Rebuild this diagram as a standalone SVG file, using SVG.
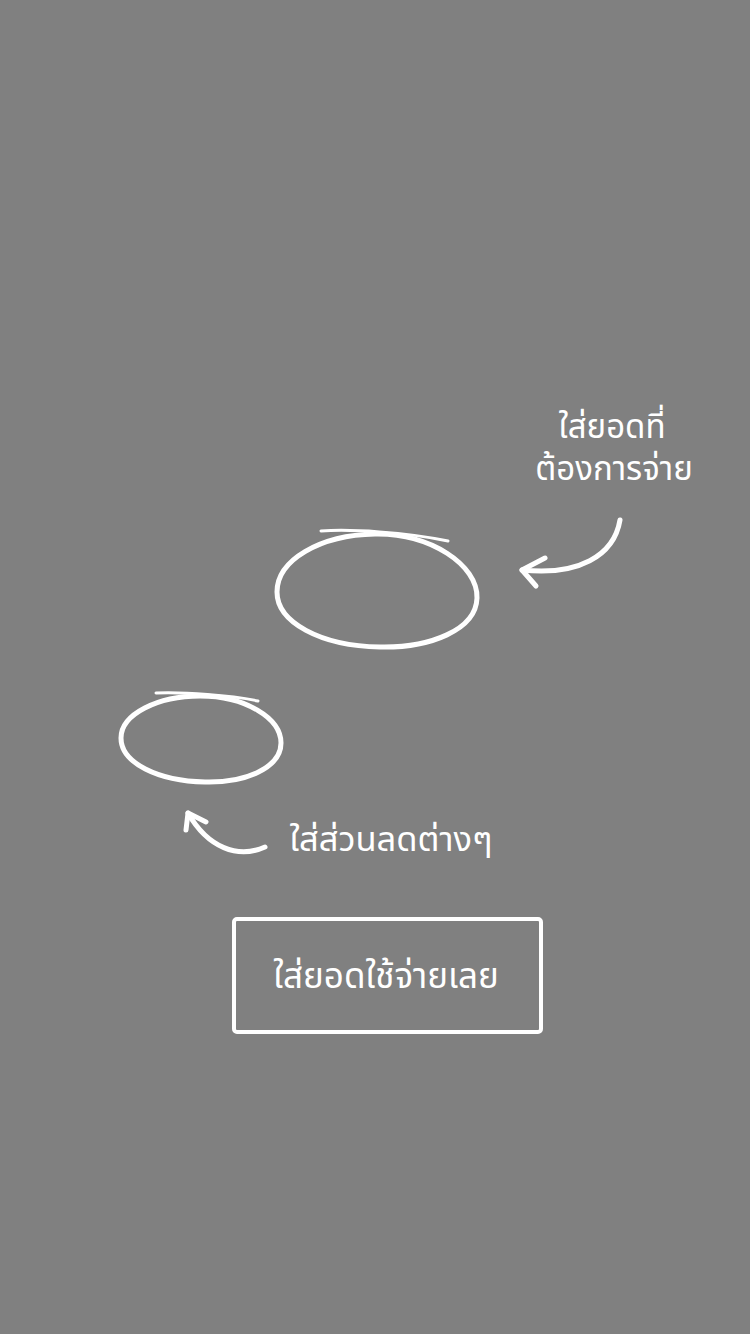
<svg xmlns="http://www.w3.org/2000/svg" width="750" height="1334" viewBox="0 0 750 1334">
<style>
.s{fill:none;stroke:#fff;stroke-linecap:round;stroke-linejoin:round}
.t{fill:#fff;font-family:"Noto Sans Thai","Noto Sans","DejaVu Sans",sans-serif;font-size:33px;text-anchor:middle}
</style>
<rect width="750" height="1334" fill="#808080"/>
<g id="amount-circle">
<path class="s" d="M375,534 C430,533 478,565 477,598 C476,630 430,648 380,647 C320,646 277,622 277,592 C277,560 320,535 375,534 Z" stroke-width="5"/>
<path class="s" d="M321,531 C350,529 405,532 448,541" stroke-width="3"/>
</g>
<g id="discount-circle">
<path class="s" d="M200,696 C245,696 281,718 281,743 C281,768 245,783 205,782 C158,781 121,763 121,738 C121,714 158,696 200,696 Z" stroke-width="5"/>
<path class="s" d="M156,693 C185,692 230,695 258,701" stroke-width="3"/>
</g>
<g id="amount-label">
<text class="t"><tspan x="612" y="438">ใส่ยอดที่</tspan><tspan x="614" y="480">ต้องการจ่าย</tspan></text>
</g>
<g id="discount-label">
<text class="t" x="391" y="851" style="font-size:34.5px">ใส่ส่วนลดต่างๆ</text>
</g>
<g id="submit-button">
<rect x="234" y="919" width="307" height="113" rx="3" fill="none" stroke="#fff" stroke-width="4"/>
<text class="t" x="386" y="988" style="font-size:35px">ใส่ยอดใช้จ่ายเลย</text>
</g>
<g id="connectors">
<path class="s" d="M620,520 C614,556 578,576 522,570" stroke-width="5"/>
<path class="s" d="M545,558 L522,570 L536,586" stroke-width="5"/>
<path class="s" d="M265,847 C238,859 208,848 188,813" stroke-width="5"/>
<path class="s" d="M186,830 L188,813 L206,822" stroke-width="5"/>
</g>
</svg>
